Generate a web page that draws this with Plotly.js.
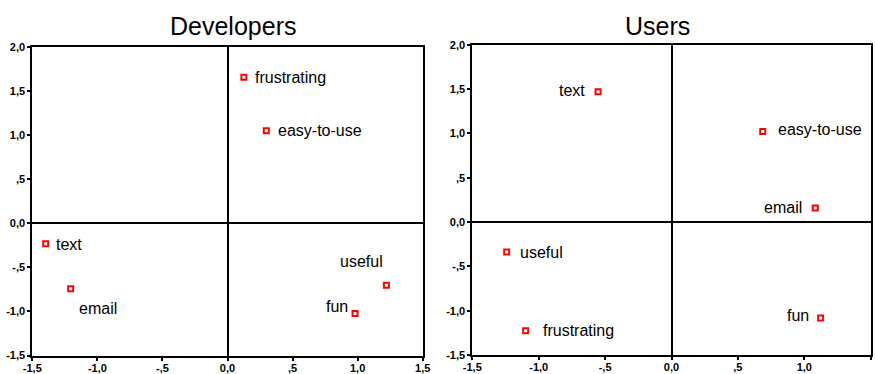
<!DOCTYPE html>
<html>
<head>
<meta charset="utf-8">
<script src="https://cdn.plot.ly/plotly-3.0.1.min.js"></script>
<style>html,body{margin:0;padding:0;background:#fff;}#chart{width:875px;height:374px;}</style>
</head>
<body>
<div id="chart"></div>
<script>
// ---- data ----
var devLabels = ["frustrating", "easy-to-use", "text", "email", "useful", "fun"];
var devX = [0.126, 0.298, -1.397, -1.205, 1.221, 0.980];
var devY = [1.660, 1.053, -0.231, -0.742, -0.701, -1.023];

var userLabels = ["text", "easy-to-use", "email", "useful", "frustrating", "fun"];
var userX = [-0.553, 0.687, 1.083, -1.241, -1.098, 1.123];
var userY = [1.469, 1.021, 0.158, -0.338, -1.226, -1.082];

var xTickVals = [-1.5, -1.0, -0.5, 0.0, 0.5, 1.0, 1.5];
var xTickText = ["-1,5", "-1,0", "-,5", "0,0", ",5", "1,0", "1,5"];
var yTickVals = [-1.5, -1.0, -0.5, 0.0, 0.5, 1.0, 1.5, 2.0];
var yTickText = ["-1,5", "-1,0", "-,5", "0,0", ",5", "1,0", "1,5", "2,0"];

var titles = ["Developers", "Users"];

// ---- label placement (style only) ----
var devLabelStyle = [
  {xanchor: "left", xshift: 9, yshift: 0},
  {xanchor: "left", xshift: 10, yshift: 0},
  {xanchor: "left", xshift: 8, yshift: -1},
  {xanchor: "left", xshift: 6, yshift: -20},
  {xanchor: "right", xshift: -1, yshift: 24},
  {xanchor: "right", xshift: -5, yshift: 7}
];
var userLabelStyle = [
  {xanchor: "right", xshift: -11, yshift: 1},
  {xanchor: "left", xshift: 13, yshift: 2},
  {xanchor: "right", xshift: -11, yshift: 1},
  {xanchor: "left", xshift: 11, yshift: -1},
  {xanchor: "left", xshift: 15, yshift: 0},
  {xanchor: "right", xshift: -10, yshift: 2}
];

var FONT = "Liberation Sans, Arial, Helvetica, sans-serif";
var W = 875, H = 374;

var marker = {symbol: "square", size: 5, color: "#ffffff", line: {color: "#ff0000", width: 2}};

var traces = [
  {x: devX, y: devY, text: devLabels, mode: "markers", type: "scatter", xaxis: "x", yaxis: "y", marker: marker, hoverinfo: "text"},
  {x: userX, y: userY, text: userLabels, mode: "markers", type: "scatter", xaxis: "x2", yaxis: "y2", marker: marker, hoverinfo: "text"}
];

function axisBase() {
  return {
    showline: true, mirror: true, linecolor: "#000", linewidth: 2,
    ticks: "outside", ticklen: 3, tickwidth: 2, tickcolor: "#000",
    zeroline: true, zerolinecolor: "#000", zerolinewidth: 2,
    showgrid: false, fixedrange: true, automargin: false,
    tickfont: {family: FONT, size: 11, color: "#000", weight: "bold"},
    tickmode: "array"
  };
}

var xa = Object.assign(axisBase(), {domain: [32.3 / W, 422.7 / W], range: [-1.5, 1.5], tickvals: xTickVals, ticktext: xTickText, anchor: "y", ticklabelstandoff: -2});
var ya = Object.assign(axisBase(), {domain: [(H - 355.5) / H, (H - 47.3) / H], range: [-1.5, 2.0], tickvals: yTickVals, ticktext: yTickText, anchor: "x"});
var xa2 = Object.assign(axisBase(), {domain: [472.3 / W, 870.7 / W], range: [-1.5, 1.5], tickvals: xTickVals, ticktext: xTickText, anchor: "y2", ticklabelstandoff: -2});
var ya2 = Object.assign(axisBase(), {domain: [(H - 355) / H, (H - 44.7) / H], range: [-1.5, 2.0], tickvals: yTickVals, ticktext: yTickText, anchor: "x2"});

var annotations = [];
function addLabels(labels, xs, ys, styles, xref, yref) {
  for (var i = 0; i < labels.length; i++) {
    annotations.push({
      x: xs[i], y: ys[i], xref: xref, yref: yref, text: labels[i], showarrow: false,
      xanchor: styles[i].xanchor, yanchor: "middle", xshift: styles[i].xshift, yshift: styles[i].yshift,
      font: {family: FONT, size: 16, color: "#000"}
    });
  }
}
addLabels(devLabels, devX, devY, devLabelStyle, "x", "y");
addLabels(userLabels, userX, userY, userLabelStyle, "x2", "y2");

annotations.push({x: 232.5 / W, y: (H - 26) / H, xref: "paper", yref: "paper", text: titles[0], showarrow: false, xanchor: "center", yanchor: "middle", font: {family: FONT, size: 25, color: "#000"}});
annotations.push({x: 657 / W, y: (H - 26) / H, xref: "paper", yref: "paper", text: titles[1], showarrow: false, xanchor: "center", yanchor: "middle", font: {family: FONT, size: 25, color: "#000"}});

var layout = {
  width: W, height: H,
  margin: {l: 0, r: 0, t: 0, b: 0},
  paper_bgcolor: "#fff", plot_bgcolor: "#fff",
  showlegend: false,
  xaxis: xa, yaxis: ya, xaxis2: xa2, yaxis2: ya2,
  annotations: annotations
};

Plotly.newPlot("chart", traces, layout, {displayModeBar: false, staticPlot: true});
</script>
</body>
</html>
